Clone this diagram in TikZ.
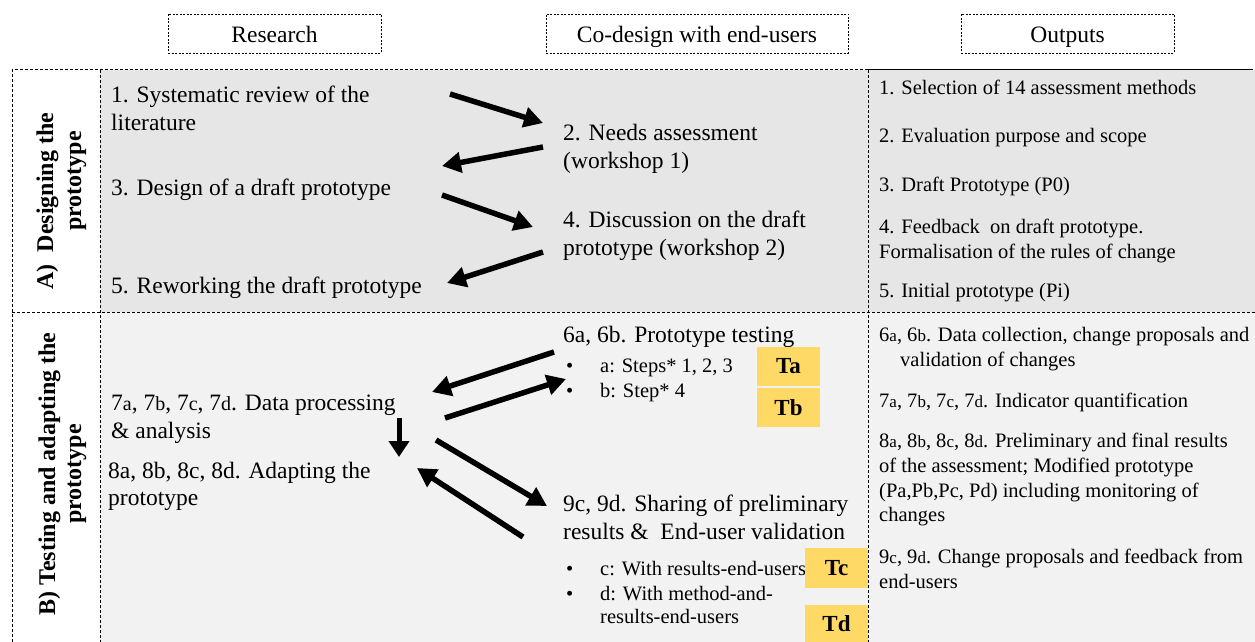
\documentclass[tikz,border=0pt]{standalone}
\usepackage{fontspec}
\setmainfont{Liberation Serif}
\usetikzlibrary{arrows.meta}
\definecolor{rowA}{RGB}{231,230,230}
\definecolor{rowB}{RGB}{242,242,242}
\definecolor{tyel}{RGB}{255,217,102}
\newcommand{\smlo}[1]{{\fontsize{17}{17}\selectfont #1}}
\newcommand{\smlm}[1]{{\fontsize{20}{20}\selectfont #1}}
\begin{document}
\begin{tikzpicture}[x=1pt,y=-1pt,
  hdr/.style={draw, dash pattern=on 2pt off 1.5pt, line width=0.8pt, minimum height=39pt, inner sep=0pt, text height=20pt, text depth=2pt, font=\fontsize{23.5}{28}\selectfont},
  maintxt/.style={anchor=base west, inner sep=0pt, font=\fontsize{23.5}{28}\selectfont},
  outtxt/.style={anchor=base west, inner sep=0pt, font=\fontsize{20.5}{25}\selectfont},
  tagbox/.style={fill=tyel, inner sep=0pt, minimum width=63pt, font=\bfseries\fontsize{23}{23}\selectfont},
  lab/.style={rotate=90, anchor=base, inner sep=0pt, font=\bfseries\fontsize{24}{28}\selectfont},
  arr/.style={line width=5.5pt, -{Triangle[length=19pt,width=20pt]}},
  darr/.style={line width=5pt, -{Triangle[length=16pt,width=20pt]}},
  border/.style={dash pattern=on 3pt off 2pt, line width=1pt}]
\useasboundingbox (0,0) rectangle (1255,642);
% fills
\fill[rowA] (100,70) rectangle (1255,312);
\fill[rowB] (100,312) rectangle (1255,642);
% borders
\draw[border] (12,642) -- (12,70) -- (868,70);
\draw[line width=1pt] (868,70) -- (1253,70);
\draw[border] (100,70) -- (100,642);
\draw[border] (868,70) -- (868,642);
\draw[border] (12,312) -- (1255,312);
% headers
\node[hdr, minimum width=213pt] (hres) at (274.5,33.5) {Research};
\node[hdr, minimum width=302pt] (hcod) at (697,33.5) {Co-design with end-users};
\node[hdr, minimum width=213pt] (hout) at (1067.5,33.5) {Outputs};
% row labels
\node[lab] (labA1) at (53,201) {A)\ \ Designing the};
\node[lab] (labA2) at (81,181) {prototype};
\node[lab] (labB1) at (55,474) {B) Testing and adapting the};
\node[lab] (labB2) at (81,474) {prototype};
% row A research
\node[maintxt] (r1) at (111,102) {1. Systematic review of the};
\node[maintxt] (r1b) at (111,130) {literature};
\node[maintxt] (r3) at (111,195) {3. Design of a draft prototype};
\node[maintxt] (r5) at (111,293) {5. Reworking the draft prototype};
% row A codesign
\node[maintxt] (c2) at (563,140) {2. Needs assessment};
\node[maintxt] (c2b) at (563,168) {(workshop 1)};
\node[maintxt] (c4) at (563,227) {4. Discussion on the draft};
\node[maintxt] (c4b) at (563,255) {prototype (workshop 2)};
% row A outputs
\node[outtxt] (o1) at (879,94) {1. Selection of 14 assessment methods};
\node[outtxt] (o2) at (879,142) {2. Evaluation purpose and scope};
\node[outtxt] (o3) at (879,191) {3. Draft Prototype (P0)};
\node[outtxt] (o4) at (879,233) {4. Feedback\ \ on draft prototype.};
\node[outtxt] (o4b) at (879,258) {Formalisation of the rules of change};
\node[outtxt] (o5) at (879,297) {5. Initial prototype (Pi)};
% row B research
\node[maintxt] (r7) at (111,410) {7\smlm{a}, 7\smlm{b}, 7\smlm{c}, 7\smlm{d}. Data processing};
\node[maintxt] (r7b) at (111,438) {\& analysis};
\node[maintxt] (r8) at (108,478) {8a, 8b, 8c, 8d. Adapting the};
\node[maintxt] (r8b) at (108,505) {prototype};
% row B codesign
\node[maintxt] (c6) at (563,342) {6a, 6b. Prototype testing};
\node[outtxt] (c6d1) at (566,372) {\textbullet};
\node[outtxt] (c6a) at (600,372) {a: Steps* 1, 2, 3};
\node[outtxt] (c6d2) at (566,397) {\textbullet};
\node[outtxt] (c6b) at (600,397) {b: Step* 4};
\node[maintxt] (c9) at (563,511) {9c, 9d. Sharing of preliminary};
\node[maintxt] (c9b) at (563,539) {results \&\ \ End-user validation};
\node[outtxt] (c9d1) at (566,575) {\textbullet};
\node[outtxt] (c9c) at (600,575) {c: With results-end-users};
\node[outtxt] (c9d2) at (566,600) {\textbullet};
\node[outtxt] (c9d) at (600,600) {d: With method-and-};
\node[outtxt] (c9db) at (600,623) {results-end-users};
% tags
\node[tagbox, minimum height=39pt] (ta) at (788.5,366.5) {Ta};
\node[tagbox, minimum height=39pt] (tb) at (788.5,407.5) {Tb};
\node[tagbox, minimum height=40pt] (tc) at (836.5,568) {Tc};
\node[tagbox, minimum height=37pt] (td) at (836.5,623.5) {Td};
% row B outputs
\node[outtxt] (o6) at (879,341) {6\smlo{a}, 6\smlo{b}. Data collection, change proposals and};
\node[outtxt] (o6b) at (900,366) {validation of changes};
\node[outtxt] (o7) at (879,407) {7\smlo{a}, 7\smlo{b}, 7\smlo{c}, 7\smlo{d}. Indicator quantification};
\node[outtxt] (o8) at (879,447) {8\smlo{a}, 8\smlo{b}, 8\smlo{c}, 8\smlo{d}. Preliminary and final results};
\node[outtxt] (o8b) at (879,472) {of the assessment; Modified prototype};
\node[outtxt] (o8c) at (879,497) {(Pa,Pb,Pc, Pd) including monitoring of};
\node[outtxt] (o8d) at (879,521) {changes};
\node[outtxt] (o9) at (879,563) {9\smlo{c}, 9\smlo{d}. Change proposals and feedback from};
\node[outtxt] (o9b) at (879,588) {end-users};
% arrow coordinates
\coordinate (a1s) at (450,94);  \coordinate (a1e) at (543,123);
\coordinate (a2s) at (543,147); \coordinate (a2e) at (442,166);
\coordinate (a3s) at (442,195); \coordinate (a3e) at (533,227);
\coordinate (a4s) at (543,252); \coordinate (a4e) at (447,283);
\coordinate (a5s) at (554,352); \coordinate (a5e) at (432,392);
\coordinate (a6s) at (445,418); \coordinate (a6e) at (566,379);
\coordinate (a7s) at (436,440); \coordinate (a7e) at (547,506);
\coordinate (a8s) at (523,537); \coordinate (a8e) at (417,468);
\coordinate (a9s) at (399,418); \coordinate (a9e) at (399,457);
\draw[arr] (a1s) -- (a1e);
\draw[arr] (a2s) -- (a2e);
\draw[arr] (a3s) -- (a3e);
\draw[arr] (a4s) -- (a4e);
\draw[arr] (a5s) -- (a5e);
\draw[arr] (a6s) -- (a6e);
\draw[arr] (a7s) -- (a7e);
\draw[arr] (a8s) -- (a8e);
\draw[darr] (a9s) -- (a9e);
\end{tikzpicture}
\end{document}
